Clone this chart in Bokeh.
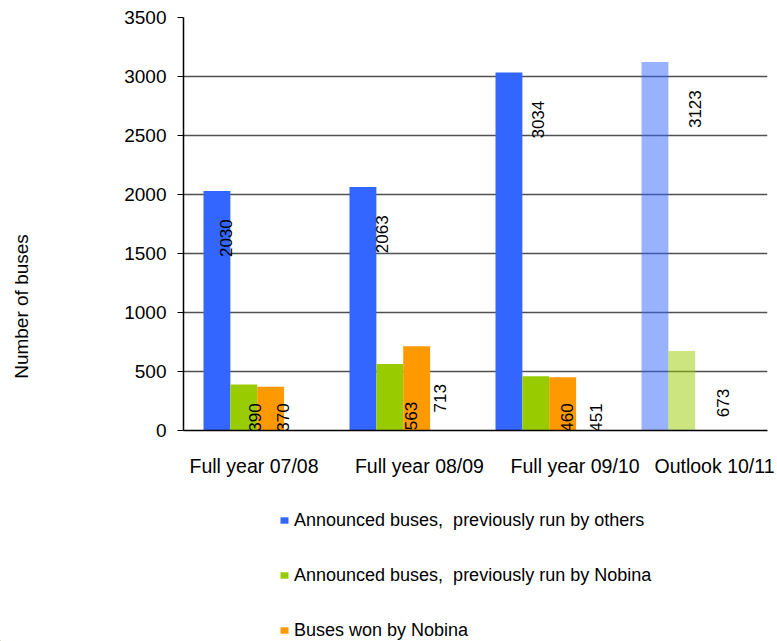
import math
from bokeh.plotting import figure
from bokeh.layouts import column, row
from bokeh.models import Range1d, FixedTicker, Legend, LegendItem, Label
from bokeh.core.properties import value
from bokeh.embed import file_html
from bokeh.resources import INLINE

# ---------------- data ----------------
categories = ["Full year 07/08", "Full year 08/09", "Full year 09/10", "Outlook 10/11"]
outlook = [False, False, False, True]
others = [2030, 2063, 3034, 3123]
prev_nobina = [390, 563, 460, 673]
won_nobina = [370, 713, 451, None]
series_names = ["Announced buses,  previously run by others",
                "Announced buses,  previously run by Nobina",
                "Buses won by Nobina"]
y_ticks = [0, 500, 1000, 1500, 2000, 2500, 3000, 3500]
y_title = "Number of buses"

# ---------------- style / layout ----------------
colors = ["#3366FF", "#99CC00", "#FF9900"]
FONT = "Liberation Sans"
bar_w = 0.184
slot0 = 0.137            # left gap inside a group (group width = 1)
label_stretch = 1.07     # value labels are horizontally stretched in the source
label_shift = 0.045
label_drop = 560         # value labels start this far below the bar top
label_floor = -10
cat_label_x = [0.483, 1.616, 2.682, 3.637]   # category label positions on the x axis

W, H_MAIN, H_LEG, W_TITLE = 777, 500, 141, 40
TITLE_X, TITLE_Y = 21, 124   # y title centre, px from the (row-aligned) frame bottom

# ---------------- main chart ----------------
p = figure(width=W - W_TITLE, height=H_MAIN, output_backend="svg",
           toolbar_location=None,
           x_range=Range1d(0, len(categories)), y_range=Range1d(0, 3500),
           min_border_left=143, min_border_right=10, min_border_top=17,
           min_border_bottom=70)
p.outline_line_color = None

all_series = [others, prev_nobina, won_nobina]
for s, vals in enumerate(all_series):
    xs, tops, xs_l, tops_l = [], [], [], []
    for i, v in enumerate(vals):
        if v is None:
            continue
        x = i + slot0 + bar_w * (s + 0.5)
        if outlook[i]:
            xs_l.append(x); tops_l.append(v)
        else:
            xs.append(x); tops.append(v)
    p.vbar(x=xs, top=tops, bottom=0, width=bar_w, fill_color=colors[s],
           line_color=None)
    if xs_l:
        p.vbar(x=xs_l, top=tops_l, bottom=0, width=bar_w, fill_color=colors[s],
               fill_alpha=0.5, line_color=None)

# value labels
lx, ly, lt = [], [], []
for s, vals in enumerate(all_series):
    for i, v in enumerate(vals):
        if v is None:
            continue
        x = i + slot0 + bar_w * (s + 0.5)
        lx.append(x * label_stretch + label_shift)
        ly.append(max(v - label_drop, label_floor))
        lt.append(str(v))
p.text(x=lx, y=ly, text=lt, angle=math.pi / 2, text_align="left",
       text_baseline="middle", text_font=value(FONT), text_font_size="17px",
       text_color="black")

# axes
p.yaxis.ticker = FixedTicker(ticks=y_ticks)
p.yaxis.major_label_text_font = FONT
p.yaxis.major_label_text_font_size = "19px"
p.yaxis.major_label_text_color = "black"
p.yaxis.axis_line_color = "black"
p.yaxis.axis_line_width = 1.5
p.yaxis.major_tick_out = 6
p.yaxis.major_tick_in = 0
p.yaxis.major_tick_line_color = "black"
p.yaxis.minor_tick_line_color = None
p.yaxis.major_label_standoff = 11

p.xaxis.ticker = FixedTicker(ticks=cat_label_x)
p.xaxis.major_label_overrides = {t: c for t, c in zip(cat_label_x, categories)}
p.xaxis.major_label_text_font = FONT
p.xaxis.major_label_text_font_size = "19.5px"
p.xaxis.major_label_text_color = "black"
p.xaxis.axis_line_color = "black"
p.xaxis.axis_line_width = 1.5
p.xaxis.major_tick_line_color = None
p.xaxis.major_tick_out = 0
p.xaxis.minor_tick_line_color = None
p.xaxis.major_label_standoff = 24

p.xgrid.grid_line_color = None
p.ygrid.grid_line_color = "#505050"
p.ygrid.grid_line_width = 1.4

# ---------------- y title strip ----------------
t = figure(width=W_TITLE, height=H_MAIN, output_backend="svg",
           toolbar_location=None, x_axis_location=None, y_axis_location=None,
           x_range=Range1d(0, W_TITLE), y_range=Range1d(0, H_MAIN), min_border=0)
t.outline_line_color = None
t.grid.grid_line_color = None
t.add_layout(Label(x=TITLE_X, y=TITLE_Y, x_units="screen", y_units="screen",
                   text=y_title, angle=math.pi / 2,
                   text_align="center", text_baseline="middle",
                   text_font=FONT, text_font_size="19px", text_color="black"))

# ---------------- legend strip ----------------
lg = figure(width=W, height=H_LEG, output_backend="svg", toolbar_location=None,
            x_axis_location=None, y_axis_location=None,
            x_range=Range1d(0, W), y_range=Range1d(0, H_LEG), min_border=0)
lg.outline_line_color = None
lg.grid.grid_line_color = None
# invisible stand-in renderers that only provide the legend swatches
dummy = [lg.vbar(x=[-100], top=[1], width=1, fill_color=c, line_color=None)
         for c in colors]
legend = Legend(items=[LegendItem(label=n, renderers=[r])
                       for n, r in zip(series_names, dummy)],
                location=(279, 0.5), orientation="vertical",
                glyph_width=10, glyph_height=8, label_height=21,
                label_standoff=5, spacing=34, padding=0, margin=0,
                border_line_color=None, background_fill_alpha=0,
                label_text_font=FONT, label_text_font_size="18px",
                label_text_color="black")
lg.add_layout(legend, "center")

layout = column(row(t, p), lg)
open("out.html", "w").write(file_html(layout, INLINE))
